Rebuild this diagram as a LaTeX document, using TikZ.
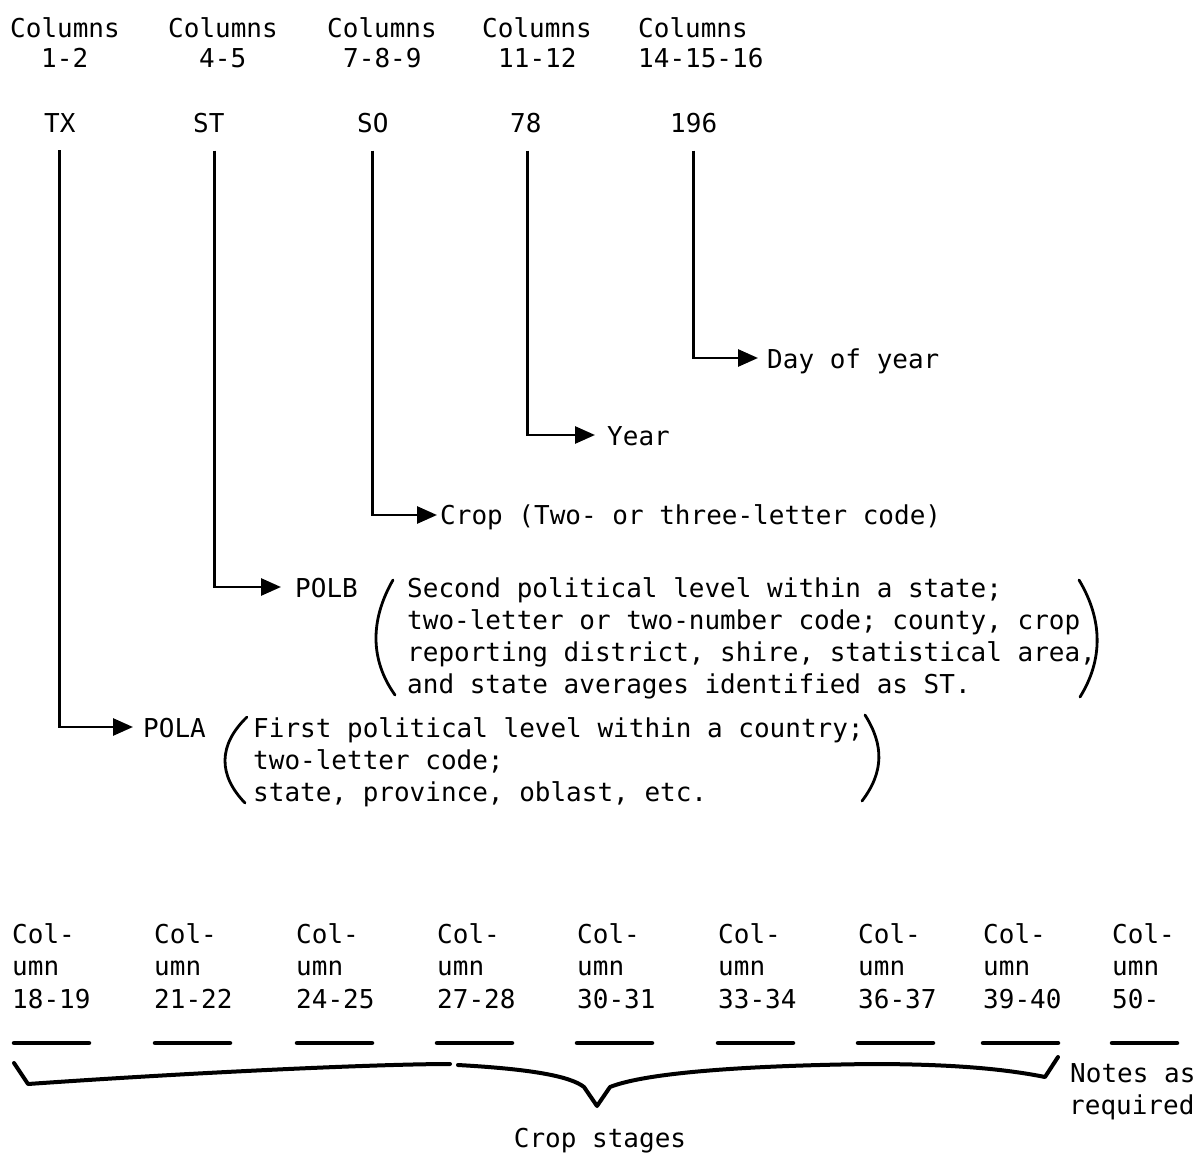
\documentclass[tikz,border=0pt]{standalone}
\usepackage{fontspec}
\setmainfont{DejaVu Sans Mono}
\usetikzlibrary{arrows.meta}
\begin{document}
\begin{tikzpicture}[x=1pt,y=-1pt,
  txt/.style={anchor=base west, inner sep=0pt, font=\fontsize{26}{32}\selectfont},
  ctxt/.style={anchor=base, inner sep=0pt, font=\fontsize{26}{32}\selectfont},
  lnk/.style={line width=2.8pt, -{Triangle[length=20pt,width=17pt]}},
  paren/.style={line width=2.8pt, line cap=round},
  ubar/.style={line width=4.5pt, line cap=round},
  brace/.style={line width=4pt, line join=round, line cap=round}]
\useasboundingbox (0,0) rectangle (1199,1153);
% header columns
\node[txt] (h1a) at (10,38) {Columns};  \node[txt] (h1b) at (41,68) {1-2};
\node[txt] (h2a) at (168,38) {Columns}; \node[txt] (h2b) at (199,68) {4-5};
\node[txt] (h3a) at (327,38) {Columns}; \node[txt] (h3b) at (343,68) {7-8-9};
\node[txt] (h4a) at (482,38) {Columns}; \node[txt] (h4b) at (498,68) {11-12};
\node[txt] (h5a) at (638,38) {Columns}; \node[txt] (h5b) at (638,68) {14-15-16};
% codes
\node[txt] (tx) at (44,133) {TX};
\node[txt] (st) at (193,133) {ST};
\node[txt] (so) at (357,133) {SO};
\node[txt] (yr) at (510,133) {78};
\node[txt] (dy) at (670,133) {196};
% targets
\node[txt] (day) at (767,368) {Day of year};
\node[txt] (year) at (607,445) {Year};
\node[txt] (crop) at (440,524) {Crop (Two- or three-letter code)};
\node[txt] (polb) at (295,597) {POLB};
\node[txt] (polb1) at (407,597) {Second political level within a state;};
\node[txt] (polb2) at (407,629) {two-letter or two-number code; county, crop};
\node[txt] (polb3) at (407,661) {reporting district, shire, statistical area,};
\node[txt] (polb4) at (407,693) {and state averages identified as ST.};
\node[txt] (pola) at (143,737) {POLA};
\node[txt] (pola1) at (253,737) {First political level within a country;};
\node[txt] (pola2) at (253,769) {two-letter code;};
\node[txt] (pola3) at (253,801) {state, province, oblast, etc.};
% arrow tips
\coordinate (tday) at (758,358);
\coordinate (tyear) at (595,435);
\coordinate (tcrop) at (437,515);
\coordinate (tpolb) at (281,587);
\coordinate (tpola) at (133,727);
% connectors
\draw[lnk] ([shift={(0pt,-17pt)}]dy.south) |- (tday);
\draw[lnk] ([shift={(1.5pt,-17pt)}]yr.south) |- (tyear);
\draw[lnk] ([shift={(0pt,-17pt)}]so.south) |- (tcrop);
\draw[lnk] ([shift={(6pt,-17pt)}]st.south) |- (tpolb);
\draw[lnk] ([shift={(0pt,-17pt)}]tx.south) |- (tpola);
% parentheses
\draw[paren] (393,580) .. controls (370,620) and (370,660) .. (395,695);
\draw[paren] (1079,580) .. controls (1103,620) and (1103,660) .. (1080,697);
\draw[paren] (247,717) .. controls (218,745) and (218,775) .. (245,803);
\draw[paren] (865,715) .. controls (884,745) and (884,772) .. (862,801);
% bottom columns
\foreach \n/\x/\num in {b1/12/18-19, b2/154/21-22, b3/296/24-25, b4/437/27-28, b5/577/30-31, b6/718/33-34, b7/858/36-37, b8/983/39-40, b9/1112/50-}{
  \node[txt] (\n a) at (\x,943) {Col-};
  \node[txt] (\n b) at (\x,975) {umn};
  \node[txt] (\n c) at (\x,1008) {\num};
}
\foreach \x in {14,155,297,437,577,718,858,983}{
  \draw[ubar] (\x,1043) -- ++(75,0);
}
\draw[ubar] (1112,1043) -- ++(65,0);
% brace
\draw[brace] (14,1063) -- (28,1084) .. controls (200,1072) and (380,1064) .. (450,1064);
\draw[brace] (458,1065) .. controls (530,1069) and (570,1076) .. (584,1087) -- (597,1106) -- (610,1087)
  .. controls (640,1075) and (720,1066) .. (870,1064) .. controls (960,1064) and (1010,1070) .. (1045,1077) -- (1058,1057);
\node[txt] (notes1) at (1070,1082) {Notes as};
\node[txt] (notes2) at (1069,1114) {required};
\node[ctxt] (stages) at (600,1147) {Crop stages};
\end{tikzpicture}
\end{document}
